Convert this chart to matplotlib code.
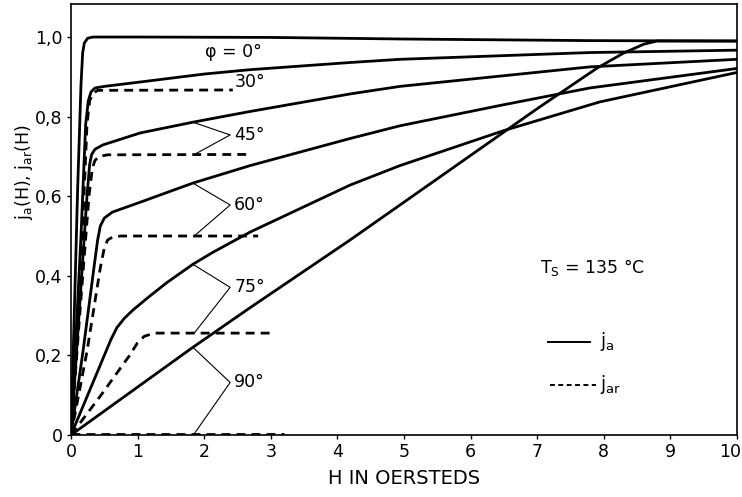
import numpy as np
import matplotlib
matplotlib.use("Agg")
import matplotlib.pyplot as plt
from matplotlib.transforms import ScaledTranslation

# ---------------- data ----------------
H_0 = [0, 0.10, 0.15, 0.175, 0.20, 0.25, 0.33, 1.0, 3.0, 5.0, 7.8, 10.0]
J_0 = [0, 0.62, 0.88, 0.96, 0.985, 0.997, 1.0, 1.0, 0.999, 0.995, 0.991, 0.99]

H_30 = [0, 0.15, 0.22, 0.26, 0.30, 0.36, 0.5, 1.04, 2.0, 2.69, 4.19, 4.94, 7.79, 10.0]
J_30 = [0, 0.50, 0.78, 0.84, 0.862, 0.872, 0.876, 0.887, 0.907, 0.918, 0.936, 0.944, 0.961, 0.967]
H_30r = [0, 0.17, 0.24, 0.28, 0.33, 0.40, 2.43]
J_30r = [0, 0.50, 0.78, 0.84, 0.858, 0.866, 0.867]

H_45 = [0, 0.12, 0.24, 0.28, 0.31, 0.36, 0.48, 1.04, 1.83, 2.69, 4.19, 4.94, 7.79, 10.0]
J_45 = [0, 0.30, 0.60, 0.68, 0.705, 0.718, 0.729, 0.759, 0.786, 0.813, 0.857, 0.876, 0.925, 0.944]
H_45r = [0, 0.13, 0.27, 0.32, 0.36, 0.42, 0.55, 2.69]
J_45r = [0, 0.30, 0.60, 0.67, 0.69, 0.70, 0.704, 0.705]

H_60 = [0, 0.18, 0.36, 0.40, 0.44, 0.50, 0.62, 1.04, 1.83, 2.69, 4.19, 4.94, 6.5, 7.79, 10.0]
J_60 = [0, 0.21, 0.44, 0.49, 0.525, 0.545, 0.56, 0.585, 0.633, 0.677, 0.745, 0.777, 0.830, 0.872, 0.921]
H_60r = [0, 0.24, 0.44, 0.50, 0.55, 0.62, 0.75, 2.81]
J_60r = [0, 0.21, 0.42, 0.47, 0.49, 0.497, 0.50, 0.50]

H_75 = [0, 0.30, 0.60, 0.69, 0.80, 0.93, 1.19, 1.44, 1.83, 2.13, 2.69, 4.19, 4.94, 6.5, 7.94, 10.0]
J_75 = [0, 0.12, 0.24, 0.27, 0.293, 0.314, 0.35, 0.383, 0.429, 0.459, 0.51, 0.628, 0.677, 0.765, 0.837, 0.911]
H_75r = [0, 0.45, 0.88, 1.0, 1.1, 1.25, 3.02]
J_75r = [0, 0.10, 0.20, 0.232, 0.248, 0.256, 0.256]

H_90 = [0, 1.81, 2.69, 4.19, 4.94, 7.0, 7.9, 8.29, 8.6, 8.8, 10.0]
J_90 = [0, 0.218, 0.32, 0.49, 0.578, 0.82, 0.922, 0.959, 0.982, 0.99, 0.99]
H_90r = [0, 3.2]
J_90r = [0.003, 0.003]

angle_labels = ["45°", "60°", "75°", "90°"]
x_ticks = [0, 1, 2, 3, 4, 5, 6, 7, 8, 9, 10]
x_ticklabels = ["0", "1", "2", "3", "4", "5", "6", "7", "8", "9", "10"]
y_ticks = [0, 0.2, 0.4, 0.6, 0.8, 1.0]
y_ticklabels = ["0", "0,2", "0,4", "0,6", "0,8", "1,0"]

# ---------------- figure ----------------
plt.rcParams['font.family'] = ['DejaVu Sans']
plt.rcParams['mathtext.default'] = 'regular'

fig = plt.figure(figsize=(7.42, 4.97), dpi=100)
ax = fig.add_axes([71/742, 62/497, 666/742, 431/497])

LW = 2.0
solid = dict(color='black', lw=LW, solid_joinstyle='round', solid_capstyle='butt')
dashed = dict(color='black', lw=LW, linestyle=(0, (3.2, 2.2)), dash_capstyle='butt')

ax.plot(H_0, J_0, **solid)
ax.plot(H_30, J_30, **solid)
ax.plot(H_45, J_45, **solid)
ax.plot(H_60, J_60, **solid)
ax.plot(H_75, J_75, **solid)
ax.plot(H_90, J_90, **solid)

ax.plot(H_30r, J_30r, **dashed)
ax.plot(H_45r, J_45r, **dashed)
ax.plot(H_60r, J_60r, **dashed)
ax.plot(H_75r, J_75r, **dashed)
ax.plot(H_90r, J_90r, **dashed)

ax.set_xlim(0, 10)
ax.set_ylim(0, 1.083)
ax.set_xticks(x_ticks)
ax.set_xticklabels(x_ticklabels)
ax.set_yticks(y_ticks)
ax.set_yticklabels(y_ticklabels)
ax.tick_params(direction='out', length=3, width=1.0, labelsize=12.5, pad=3)
for s in ax.spines.values():
    s.set_linewidth(1.2)

# keep the last x tick label inside the canvas
last = ax.get_xticklabels()[-1]
last.set_transform(last.get_transform() + ScaledTranslation(-7/100, 0, fig.dpi_scale_trans))

# angle labels with V-shaped leaders
FS = 12.5
ax.text(2.01, 0.962, "φ = 0°", fontsize=FS, va='center', ha='left')
ax.text(2.46, 0.886, "30°", fontsize=FS, va='center', ha='left')

pairs = [(H_45, J_45, H_45r, J_45r, 0.754),
         (H_60, J_60, H_60r, J_60r, 0.578),
         (H_75, J_75, H_75r, J_75r, 0.371),
         (H_90, J_90, H_90r, J_90r, 0.132)]
xv, xs = 2.39, 1.83
for lab, (hs, js, hr, jr, yl) in zip(angle_labels, pairs):
    ys = np.interp(xs, hs, js)
    yr = np.interp(xs + 0.02, hr, jr)
    ax.plot([xs, xv, xs + 0.02], [ys, yl, yr], color='black', lw=0.8)
    ax.text(xv + 0.06, yl, lab, fontsize=FS, va='center', ha='left')

# legend-like annotations
ax.text(7.04, 0.42, r"$T_S$ = 135 °C", fontsize=FS, va='center', ha='left')
ax.plot([7.16, 7.79], [0.234, 0.234], color='black', lw=1.4)
ax.text(7.94, 0.234, r"$j_a$", fontsize=FS + 1, va='center', ha='left')
ax.plot([7.19, 7.88], [0.126, 0.126], color='black', lw=1.4, linestyle=(0, (2.5, 1.8)))
ax.text(7.94, 0.126, r"$j_{ar}$", fontsize=FS + 1, va='center', ha='left')

fig.text(404/742, 1 - 478/497, "H IN OERSTEDS", fontsize=14, ha='center', va='center')
fig.text(24/742, 1 - 172/497, r"$j_a$(H), $j_{ar}$(H)", fontsize=12.5,
         rotation=90, ha='center', va='center')

fig.savefig("out.png", dpi=100)
